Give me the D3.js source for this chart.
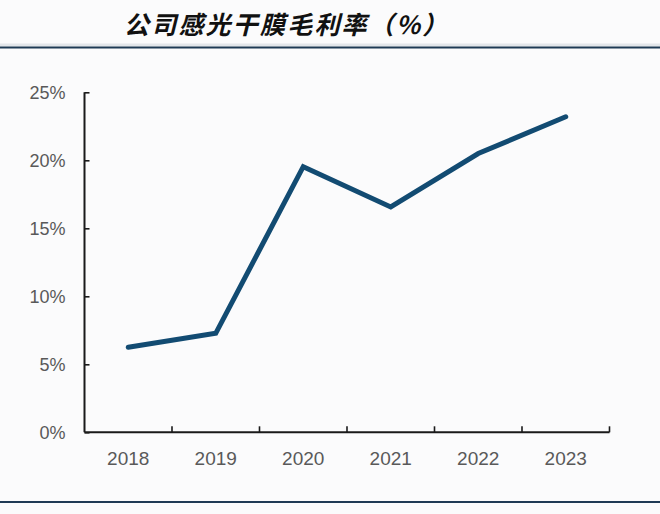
<!DOCTYPE html>
<html>
<script src='https://d3js.org/d3.v7.min.js'></script>
<style>
  body {margin: 0; background: #fbfbfc;}
  text {font-family: "Liberation Sans", Arial, sans-serif;}
</style>
<body onload='init()'>
<svg width=660 height=514 id="MainSVG"></svg>

<script>
// chart data
var years = ["2018", "2019", "2020", "2021", "2022", "2023"];
var margins = [6.25, 7.28, 19.53, 16.57, 20.5, 23.2];
var yTicks = [0, 5, 10, 15, 20, 25];

function init() {

  var svg1 = d3.select("svg");

  svg1.append("rect")
    .attr("width", "660")
    .attr("height", "514")
    .attr("fill", "#fbfbfc");

  //Add heading and the two rule lines

  svg1.append("text")
    .attr("x", "124")
    .attr("y", "34")
    .attr("font-size", "25px")
    .attr("font-weight", "bold")
    .attr("font-style", "italic")
    .attr("letter-spacing", "2.2")
    .style("font-family", "'Noto Sans CJK SC', sans-serif")
    .attr("fill", "#111")
    .text("公司感光干膜毛利率（%）");

  svg1.append("line")
    .attr("x1", "0").attr("x2", "660")
    .attr("y1", "45").attr("y2", "45")
    .attr("stroke", "#e3e6ea")
    .attr("stroke-width", "3");

  svg1.append("line")
    .attr("x1", "0").attr("x2", "660")
    .attr("y1", "47.5").attr("y2", "47.5")
    .attr("stroke", "#1f3a55")
    .attr("stroke-width", "2.2");

  svg1.append("line")
    .attr("x1", "0").attr("x2", "660")
    .attr("y1", "502").attr("y2", "502")
    .attr("stroke", "#1f3a55")
    .attr("stroke-width", "2.2");

  //create axis scales

  var xs = d3.scaleBand()
    .domain(years)
    .range([84.5, 609.5])
    .padding(0);

  var ys = d3.scaleLinear()
    .domain([0, 25])
    .range([432.3, 92.3]);

  //add axes (ticks point inwards)

  var yAxis = svg1.append("g")
    .attr("transform", "translate(84.5,0)")
    .call(d3.axisLeft(ys).tickValues(yTicks).tickSize(-5).tickPadding(19)
      .tickFormat(function(d) { return d + "%"; }));

  var xAxis = svg1.append("g")
    .attr("transform", "translate(0,432.3)")
    .call(d3.axisBottom(xs).tickSize(0).tickPadding(19));

  // band boundary ticks for the x axis
  var edges = years.map(function(d) { return xs(d) + xs.bandwidth(); });
  xAxis.selectAll(".edge")
    .data(edges)
    .enter().append("line")
    .attr("class", "edge")
    .attr("x1", function(d) { return d; })
    .attr("x2", function(d) { return d; })
    .attr("y1", 0)
    .attr("y2", -6)
    .attr("stroke", "#1a1a1a")
    .attr("stroke-width", "1.6");

  [yAxis, xAxis].forEach(function(ax) {
    ax.select(".domain")
      .attr("stroke", "#1a1a1a")
      .attr("stroke-width", "2");
    ax.selectAll(".tick line")
      .attr("stroke", "#1a1a1a")
      .attr("stroke-width", "1.6");
    ax.selectAll(".tick text")
      .attr("fill", "#595959")
      .style("font-family", "'Liberation Sans', Arial, sans-serif");
  });
  yAxis.selectAll(".tick text").attr("font-size", "18px");
  xAxis.selectAll(".tick text").attr("font-size", "19px");
  // plain corners on the axis domains
  yAxis.select(".domain").attr("d", "M0," + ys(25) + "V" + ys(0));
  xAxis.select(".domain").attr("d", "M84.5,0H609.5");

  //draw the line

  var line = d3.line()
    .x(function(d, i) { return xs(years[i]) + xs.bandwidth() / 2; })
    .y(function(d) { return ys(d); });

  svg1.append("path")
    .datum(margins)
    .attr("d", line)
    .attr("fill", "none")
    .attr("stroke", "#124b72")
    .attr("stroke-width", "5")
    .attr("stroke-linecap", "round")
    .attr("stroke-linejoin", "miter");
}
</script>
</body>
</html>
